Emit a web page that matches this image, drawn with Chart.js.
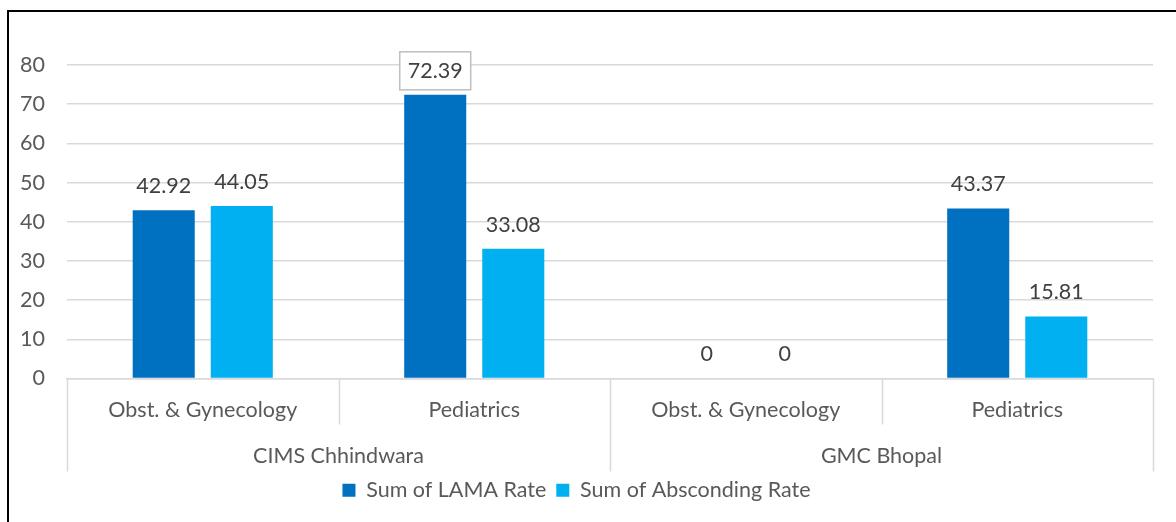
<!DOCTYPE html>
<html>
<head>
<meta charset="utf-8">
<script src="https://cdn.jsdelivr.net/npm/chart.js@4.4.1/dist/chart.umd.min.js"></script>
<style>
  html, body { margin: 0; padding: 0; background: #fff; }
  #wrap { position: relative; width: 1176px; height: 522px; overflow: hidden; }
  #frame { position: absolute; left: 7px; top: 10px; width: 1200px; height: 600px; border-left: 2px solid #000; border-top: 2px solid #000; box-sizing: border-box; pointer-events: none; }
  canvas { position: absolute; left: 0; top: 0; }
</style>
</head>
<body>
<div id="wrap">
  <canvas id="grafico" width="1176" height="522"></canvas>
  <div id="frame"></div>
</div>
<script>
// dati
var reparti = ['Obst. & Gynecology', 'Pediatrics', 'Obst. & Gynecology', 'Pediatrics'];
var ospedali = ['CIMS Chhindwara', 'GMC Bhopal'];
var lamaRate = [42.92, 72.39, 0, 43.37];
var abscondingRate = [44.05, 33.08, 0, 15.81];
var yTicks = [0, 10, 20, 30, 40, 50, 60, 70, 80];

var fontFam = 'Lato, "Open Sans", sans-serif';
var fontSize = 21.5;
var lineCol = '#d9d9d9';

// etichette sopra le barre
var etichette = {
    id: 'etichette',
    afterDatasetsDraw: function(chart){
        var ctx = chart.ctx;
        ctx.save();
        ctx.font = fontSize + 'px ' + fontFam;
        ctx.fillStyle = '#404040';
        ctx.textAlign = 'center';
        ctx.textBaseline = 'middle';
        chart.data.datasets.forEach(function(ds, i){
            chart.getDatasetMeta(i).data.forEach(function(bar, j){
                var testo = String(ds.data[j]);
                var y = bar.y - 24;
                if (ds.boxed && ds.boxed[j]) {
                    var w = ctx.measureText(testo).width + 16;
                    ctx.fillStyle = '#fff';
                    ctx.fillRect(bar.x - w / 2, y - 19, w, 38);
                    ctx.strokeStyle = '#bfbfbf';
                    ctx.lineWidth = 1.5;
                    ctx.strokeRect(bar.x - w / 2, y - 19, w, 38);
                    ctx.fillStyle = '#404040';
                }
                ctx.fillText(testo, bar.x, y);
            });
        });
        ctx.restore();
    }
};

// asse x a due livelli
var gruppi = {
    id: 'gruppi',
    afterDraw: function(chart){
        var ctx = chart.ctx;
        var x = chart.scales.x;
        var top = chart.chartArea.bottom;
        var n = reparti.length;
        var step = (x.right - x.left) / n;
        ctx.save();
        ctx.strokeStyle = lineCol;
        ctx.lineWidth = 1.5;
        for (var i = 0; i <= n; i++) {
            var px = Math.round(x.left + step * i) + 0.5;
            var fondo = (i % 2 === 0) ? top + 93 : top + 46;
            ctx.beginPath();
            ctx.moveTo(px, top);
            ctx.lineTo(px, fondo);
            ctx.stroke();
        }
        ctx.font = fontSize + 'px ' + fontFam;
        ctx.fillStyle = '#595959';
        ctx.textAlign = 'center';
        ctx.textBaseline = 'middle';
        ospedali.forEach(function(nome, g){
            var cx = x.left + step * (g * 2 + 1);
            ctx.fillText(nome, cx, top + 78);
        });
        ctx.restore();
    }
};

var ctx = document.getElementById('grafico');
var chart = new Chart(ctx, {
    type: 'bar',
    data: {
        labels: reparti,
        datasets: [{
            label: 'Sum of LAMA Rate',
            data: lamaRate,
            backgroundColor: '#0070c0',
            boxed: [false, true, false, false]
        }, {
            label: 'Sum of Absconding Rate',
            data: abscondingRate,
            backgroundColor: '#00b0f0'
        }]
    },
    options: {
        responsive: false,
        animation: false,
        devicePixelRatio: 1,
        categoryPercentage: 0.575,
        barPercentage: 0.795,
        layout: { padding: { top: 65, right: 23, left: 0, bottom: 11 } },
        scales: {
            x: {
                grid: { display: false, drawTicks: false },
                border: { display: true, color: lineCol, width: 1.5 },
                ticks: { color: '#595959', font: { family: fontFam, size: fontSize }, padding: 19, maxRotation: 0, autoSkip: false },
                afterFit: function(scale){ scale.height = 91; }
            },
            y: {
                min: 0,
                max: 80,
                afterBuildTicks: function(scale){
                    scale.ticks = yTicks.map(function(v){ return { value: v }; });
                },
                grid: { color: lineCol, lineWidth: 1.5, drawTicks: false },
                border: { display: false },
                ticks: { color: '#595959', font: { family: fontFam, size: fontSize }, padding: 22 },
                afterFit: function(scale){ scale.width = 67; }
            }
        },
        plugins: {
            legend: {
                position: 'bottom',
                labels: {
                    color: '#595959',
                    font: { family: fontFam, size: fontSize },
                    boxWidth: 13,
                    boxHeight: 13,
                    padding: 10
                }
            },
            tooltip: { enabled: false }
        }
    },
    plugins: [etichette, gruppi]
});
</script>
</body>
</html>
